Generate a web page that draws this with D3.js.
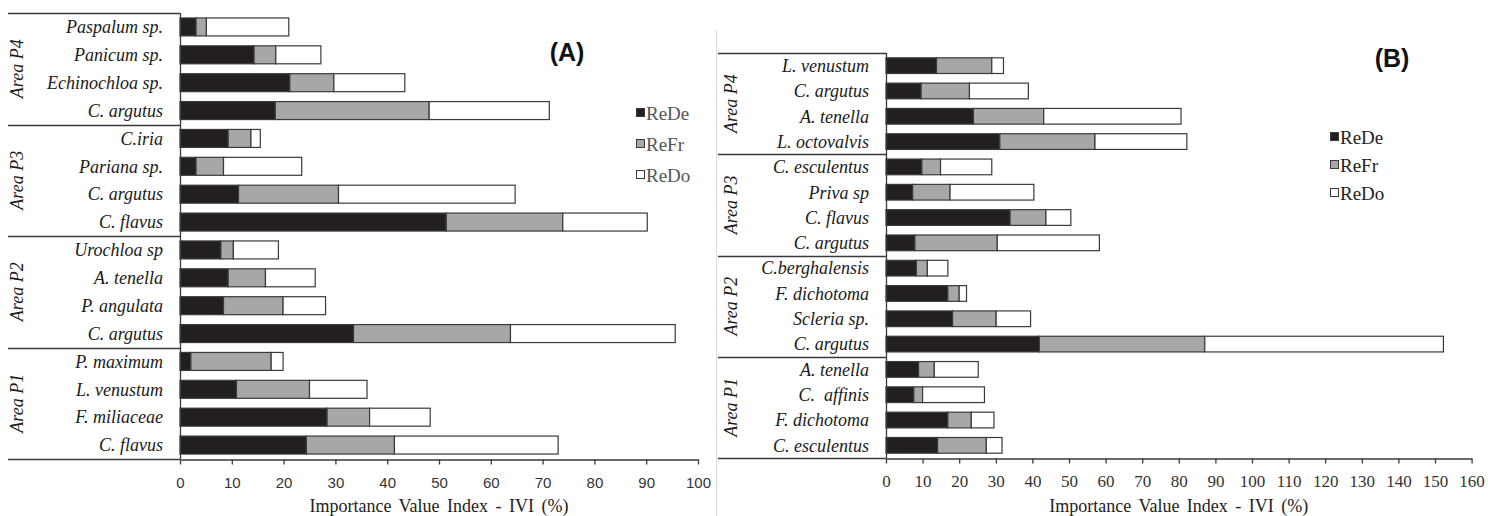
<!DOCTYPE html>
<html>
<head>
<meta charset="utf-8">
<script src="https://cdn.jsdelivr.net/npm/d3@7"></script>
<style>
  html, body { margin: 0; padding: 0; background: #fff; }
  svg { display: block; }
  .serif { font-family: 'Liberation Serif', 'Times New Roman', serif; }
  .sans { font-family: 'Liberation Sans', Arial, sans-serif; }
</style>
</head>
<body>
<script>
const seriesKeys = ['ReDe', 'ReFr', 'ReDo'];
const seriesColors = ['#231f20', '#a6a7a9', '#ffffff'];
const areaNames = ['Area P4', 'Area P3', 'Area P2', 'Area P1'];

// panel A, rows top to bottom (4 species per area)
const speciesA = [
  'Paspalum sp.', 'Panicum sp.', 'Echinochloa sp.', 'C. argutus',
  'C.iria', 'Pariana sp.', 'C. argutus', 'C. flavus',
  'Urochloa sp', 'A. tenella', 'P. angulata', 'C. argutus',
  'P. maximum', 'L. venustum', 'F. miliaceae', 'C. flavus'
];
const reDeA = [3.1, 14.3, 21.2, 18.4, 9.3, 3.1, 11.3, 51.4, 7.9, 9.3, 8.4, 33.5, 2.1, 10.9, 28.4, 24.4];
const reFrA = [2.0, 4.2, 8.5, 29.7, 4.4, 5.3, 19.3, 22.5, 2.4, 7.2, 11.5, 30.3, 15.5, 14.1, 8.2, 17.0];
const reDoA = [15.9, 8.7, 13.7, 23.2, 1.8, 15.1, 34.1, 16.3, 8.7, 9.6, 8.2, 31.8, 2.3, 11.1, 11.7, 31.6];
const ticksA = [0, 10, 20, 30, 40, 50, 60, 70, 80, 90, 100];

// panel B
const speciesB = [
  'L. venustum', 'C. argutus', 'A. tenella', 'L. octovalvis',
  'C. esculentus', 'Priva sp', 'C. flavus', 'C. argutus',
  'C.berghalensis', 'F. dichotoma', 'Scleria sp.', 'C. argutus',
  'A. tenella', 'C.  affinis', 'F. dichotoma', 'C. esculentus'
];
const reDeB = [13.8, 9.6, 23.9, 31.1, 9.8, 7.3, 33.9, 7.9, 8.3, 16.9, 18.2, 41.9, 8.9, 7.6, 16.9, 14.1];
const reFrB = [15.1, 13.2, 19.2, 26.0, 5.1, 10.2, 9.8, 22.5, 3.0, 3.1, 11.9, 45.2, 4.3, 2.4, 6.4, 13.3];
const reDoB = [3.2, 16.1, 37.5, 25.1, 14.0, 22.9, 6.8, 27.9, 5.6, 2.0, 9.4, 65.2, 12.0, 16.9, 6.2, 4.3];
const ticksB = [0, 10, 20, 30, 40, 50, 60, 70, 80, 90, 100, 110, 120, 130, 140, 150, 160];

const axisTitle = 'Importance Value Index - IVI (%)';
const lineColor = '#3a3a3a';

const svg = d3.select('body')
  .append('svg')
    .attr('width', 1488)
    .attr('height', 516);

// faint frame of the right panel
svg.append('line')
  .attr('x1', 716.5).attr('x2', 716.5)
  .attr('y1', 30).attr('y2', 516)
  .attr('stroke', '#dcdcdc');

function drawPanel(opts) {
  const rows = opts.species.map((name, i) => ({
    i,
    name,
    ReDe: opts.reDe[i],
    ReFr: opts.reFr[i],
    ReDo: opts.reDo[i]
  }));

  const x = d3.scaleLinear()
    .domain([0, d3.max(opts.ticks)])
    .range([opts.x0, opts.x1]);

  const y = d3.scaleBand()
    .domain(rows.map(d => d.i))
    .range([opts.top, opts.bottom])
    .paddingInner(opts.pad)
    .paddingOuter(opts.pad / 2);

  const stack = d3.stack().keys(seriesKeys)(rows);
  const g = svg.append('g');

  g.selectAll('g.series')
    .data(stack)
    .join('g')
      .attr('class', 'series')
      .attr('fill', (d, i) => seriesColors[i])
    .selectAll('rect')
    .data(d => d)
    .join('rect')
      .attr('x', d => x(d[0]))
      .attr('width', d => x(d[1]) - x(d[0]))
      .attr('y', d => y(d.data.i))
      .attr('height', y.bandwidth())
      .attr('stroke', lineColor)
      .attr('stroke-width', 1.2);

  // label box
  const step = y.step();
  const groupEdges = d3.range(0, rows.length + 1, 4).map(k => opts.top + k * step);
  g.selectAll('line.group')
    .data(groupEdges)
    .join('line')
      .attr('class', 'group')
      .attr('x1', opts.boxLeft)
      .attr('x2', opts.x0)
      .attr('y1', d => Math.round(d) + 0.5)
      .attr('y2', d => Math.round(d) + 0.5)
      .attr('stroke', lineColor)
      .attr('stroke-width', 1.3);

  g.append('line')
    .attr('x1', opts.x0 + 0.5).attr('x2', opts.x0 + 0.5)
    .attr('y1', opts.top).attr('y2', opts.bottom)
    .attr('stroke', lineColor)
    .attr('stroke-width', 1.3);

  g.selectAll('text.species')
    .data(rows)
    .join('text')
      .attr('class', 'species serif')
      .attr('x', opts.labelRight)
      .attr('y', d => y(d.i) + y.bandwidth() / 2)
      .attr('dy', '0.35em')
      .attr('text-anchor', 'end')
      .attr('font-style', 'italic')
      .attr('font-size', 18)
      .attr('fill', '#1a1a1a')
      .style('white-space', 'pre')
      .text(d => d.name);

  g.selectAll('text.area')
    .data(areaNames)
    .join('text')
      .attr('class', 'area serif')
      .attr('transform', (d, k) => `translate(${opts.areaX},${opts.top + (k * 4 + 2) * step}) rotate(-90)`)
      .attr('dy', '0.35em')
      .attr('text-anchor', 'middle')
      .attr('font-style', 'italic')
      .attr('font-size', 18)
      .attr('fill', '#1a1a1a')
      .text(d => d);

  // x axis
  const axis = g.append('g')
    .attr('transform', `translate(0,${Math.round(opts.bottom) + 0.5})`)
    .call(d3.axisBottom(x).tickValues(opts.ticks).tickSize(5).tickSizeOuter(0));
  axis.attr('font-family', null);
  axis.select('.domain')
    .attr('stroke', lineColor)
    .attr('stroke-width', 1.3);
  axis.selectAll('.tick line')
    .attr('stroke', lineColor)
    .attr('stroke-width', 1.3);
  axis.selectAll('.tick text')
    .attr('class', opts.tickClass)
    .attr('y', 28)
    .attr('dy', null)
    .attr('fill', '#333')
    .attr('font-size', opts.tickSize);

  g.append('text')
    .attr('class', 'serif')
    .attr('x', (opts.x0 + opts.x1) / 2)
    .attr('y', 512)
    .attr('text-anchor', 'middle')
    .attr('font-size', 18)
    .attr('fill', '#222')
    .style('word-spacing', '3px')
    .text(axisTitle);

  // panel letter
  g.append('text')
    .attr('class', 'sans')
    .attr('x', opts.letterX)
    .attr('y', opts.letterY)
    .attr('text-anchor', 'middle')
    .attr('font-weight', 'bold')
    .attr('font-size', 25)
    .attr('fill', '#111')
    .text(opts.letter);

  // legend
  const legend = g.selectAll('g.legend')
    .data(seriesKeys)
    .join('g')
      .attr('class', 'legend')
      .attr('transform', (d, k) => `translate(${opts.legendX},${opts.legendY + k * opts.legendGap})`);
  legend.append('rect')
    .attr('x', 0.5)
    .attr('y', -4.5)
    .attr('width', 8)
    .attr('height', 8)
    .attr('fill', (d, k) => seriesColors[k])
    .attr('stroke', lineColor);
  legend.append('text')
    .attr('class', 'serif')
    .attr('x', 10)
    .attr('dy', '0.35em')
    .attr('font-size', 19)
    .attr('fill', opts.legendColor)
    .text(d => d);
}

drawPanel({
  species: speciesA, reDe: reDeA, reFr: reFrA, reDo: reDoA, ticks: ticksA,
  x0: 180, x1: 698, top: 13, bottom: 459, pad: 0.355,
  boxLeft: 8, labelRight: 163, areaX: 17,
  tickClass: 'sans', tickSize: 15,
  letter: '(A)', letterX: 567, letterY: 61,
  legendX: 636, legendY: 113, legendGap: 31, legendColor: '#555'
});

drawPanel({
  species: speciesB, reDe: reDeB, reFr: reFrB, reDo: reDoB, ticks: ticksB,
  x0: 886, x1: 1471.6, top: 53, bottom: 458, pad: 0.38,
  boxLeft: 718, labelRight: 869, areaX: 731,
  tickClass: 'serif', tickSize: 17,
  letter: '(B)', letterX: 1392, letterY: 67,
  legendX: 1330, legendY: 137, legendGap: 28, legendColor: '#222'
});
</script>
</body>
</html>
